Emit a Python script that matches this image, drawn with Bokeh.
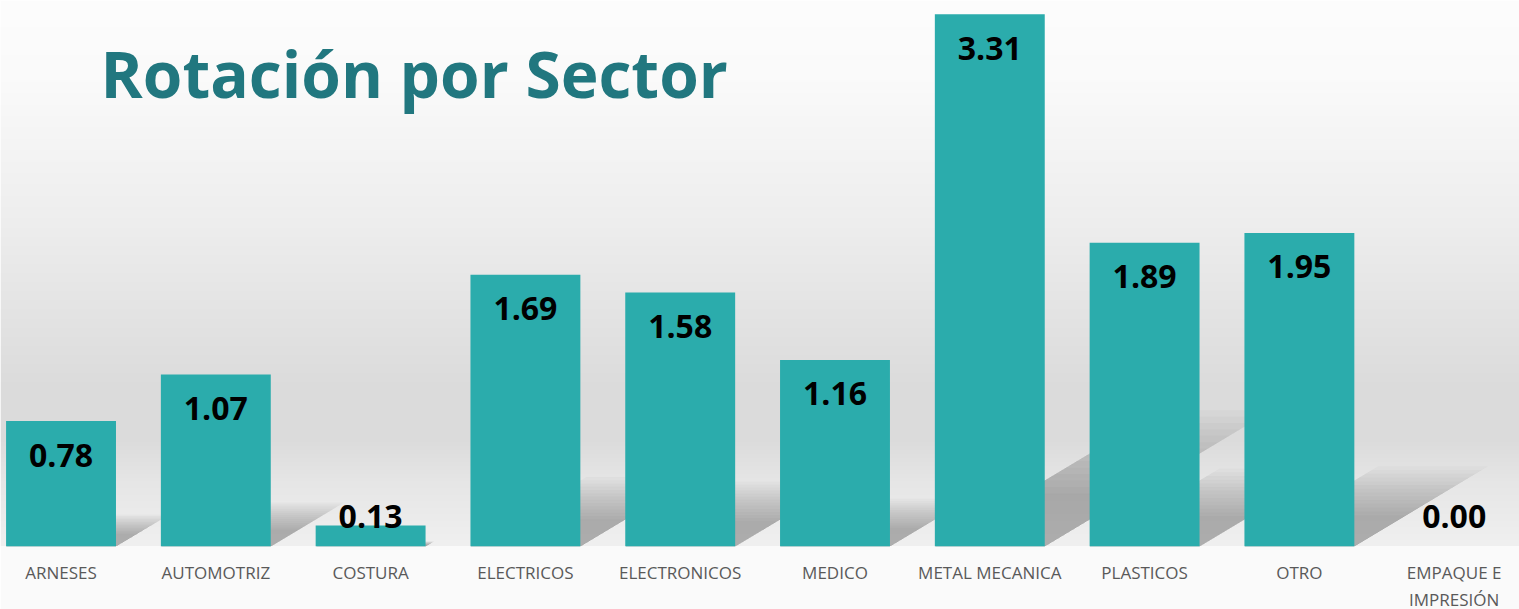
import numpy as np
from bokeh.plotting import figure
from bokeh.models import Range1d, FixedTicker, Label, ColumnDataSource
from bokeh.core.properties import value
from bokeh.embed import file_html
from bokeh.resources import INLINE

# ---- data ----
categories = ["ARNESES", "AUTOMOTRIZ", "COSTURA", "ELECTRICOS", "ELECTRONICOS",
              "MEDICO", "METAL MECANICA", "PLASTICOS", "OTRO", "EMPAQUE E\nIMPRESIÓN"]
rotacion = [0.78, 1.07, 0.13, 1.69, 1.58, 1.16, 3.31, 1.89, 1.95, 0.00]
labels = ["%.2f" % v for v in rotacion]
title_text = "Rotación por Sector"

BAR = "#2BACAC"
TITLE_COLOR = "#21777F"

FRAME_W, FRAME_H = 1519, 546
BOTTOM = 63
x0, x1 = -0.391, 9.422
y0, y1 = 0.0, 3.396
px_x = FRAME_W / (x1 - x0)
px_y = FRAME_H / (y1 - y0)

p = figure(frame_width=FRAME_W, frame_height=FRAME_H, output_backend="svg",
           toolbar_location=None,
           x_range=Range1d(x0, x1), y_range=Range1d(y0, y1),
           y_axis_location=None, min_border_left=0, min_border_right=0,
           min_border_top=0, min_border_bottom=BOTTOM)
p.outline_line_color = None
p.grid.visible = False
p.background_fill_color = "#ffffff"
p.border_fill_color = "#fafafa"

# gradient background (decorative)
stops_t = [0.0, 0.15, 0.4, 0.7, 0.8, 0.88, 1.0]
stops_v = [253, 250, 238, 220, 219, 230, 240]
rows = FRAME_H
t = 1.0 - (np.arange(rows) + 0.5) / rows  # row 0 = bottom
g = np.interp(t, stops_t, stops_v).astype(np.uint32)
img = np.empty((rows, 1), dtype=np.uint32)
img[:, 0] = (255 << 24) | (g << 16) | (g << 8) | g
p.image_rgba(image=[img], x=x0, y=y0, dw=x1 - x0, dh=y1 - y0)

# soft shadows (derived from bar values)
xs_idx = np.arange(len(categories))
vals = np.array(rotacion)
bw = 0.71
n_layers = 14
for k in range(n_layers):
    sy = 0.10 + 0.012 * k
    sx = sy / 0.6
    xs, ys = [], []
    for i, v in zip(xs_idx, vals):
        if v <= 0:
            continue
        xl, xr = i - bw / 2, i + bw / 2
        dx = sx * v * px_y / px_x
        dy = sy * v
        xs.append([xl, xr, xr + dx, xl + dx])
        ys.append([0, 0, dy, dy])
    p.patches(xs, ys, fill_color="#606060", fill_alpha=0.034, line_color=None)

src = ColumnDataSource(dict(x=xs_idx, top=vals, lab=labels,
                            ly=np.maximum(vals - 34 / px_y, 30 / px_y)))
p.vbar(x="x", top="top", width=bw, bottom=0, source=src,
       fill_color=BAR, line_color=None)
p.text(x="x", y="ly", text="lab", source=src, text_align="center",
       text_baseline="middle", text_font=value("Open Sans"),
       text_font_style="bold", text_font_size="32px", text_color="#000000")

p.xaxis.ticker = FixedTicker(ticks=list(range(len(categories))))
p.xaxis.major_label_overrides = {i: c for i, c in enumerate(categories)}
p.xaxis.axis_line_color = None
p.xaxis.major_tick_line_color = None
p.xaxis.minor_tick_line_color = None
p.xaxis.major_tick_out = 0
p.xaxis.major_tick_in = 0
p.xaxis.major_label_standoff = 14
p.xaxis.major_label_text_font = "Open Sans"
p.xaxis.major_label_text_font_size = "17px"
p.xaxis.major_label_text_color = "#595959"

# title: left edge at ~100px, cap centre at ~73px from top
p.add_layout(Label(x=x0 + 100 / px_x, y=y1 - 73 / px_y, text=title_text,
                   text_font="Open Sans", text_font_style="bold",
                   text_font_size="64px", text_color=TITLE_COLOR,
                   text_baseline="middle"))

open("out.html", "w").write(file_html(p, INLINE))
